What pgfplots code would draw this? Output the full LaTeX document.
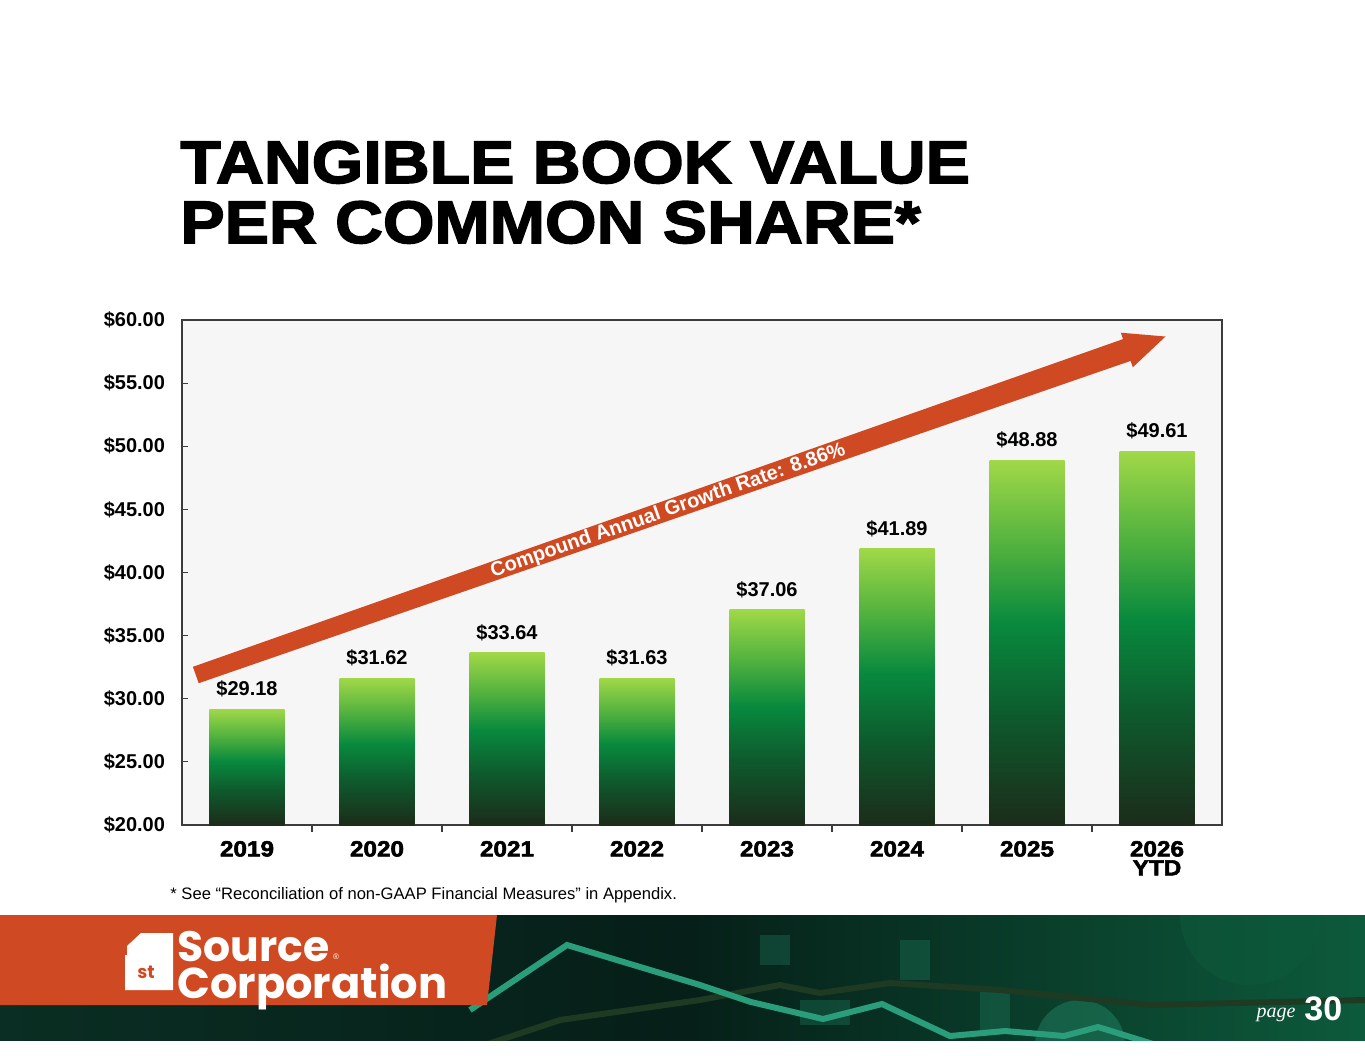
\documentclass[border=0pt]{standalone}
\usepackage{pgfplots}
\pgfplotsset{compat=1.18}
\usepackage{fontspec}
\setmainfont{Liberation Sans}
\newfontfamily\titlefont{Liberation Sans}[UprightFont={* Bold}, FakeStretch=1.105, FakeBold=2.5]
\newfontfamily\serifit{Liberation Serif}
\newfontfamily\logofont{Poppins}
\definecolor{plotbg}{HTML}{F6F6F6}
\definecolor{axisgray}{HTML}{3C3C3C}
\definecolor{arroworange}{HTML}{CF4A22}
\definecolor{bardark}{HTML}{1C2C1A}
\definecolor{barmidb}{HTML}{0E5A2D}
\definecolor{bargreen}{HTML}{08893E}
\definecolor{barlightb}{HTML}{4CAF3E}
\definecolor{barlight}{HTML}{A0D848}
\definecolor{bannerL}{HTML}{0A2E23}
\definecolor{bannerM}{HTML}{061F18}
\definecolor{bannerR}{HTML}{0D5A3C}
\definecolor{tealline}{HTML}{2A9E7A}
\definecolor{darkline}{HTML}{1E3A22}
\pgfdeclareverticalshading{bargrad}{100bp}{color(0bp)=(bardark); color(25bp)=(bardark); color(40bp)=(barmidb); color(52.5bp)=(bargreen); color(62.5bp)=(barlightb); color(75bp)=(barlight); color(100bp)=(barlight)}
\begin{document}
\begin{tikzpicture}[x=0.5pt,y=-0.5pt]
\path[use as bounding box, fill=white] (0,0) rectangle (1365,1055);
% Title
\node[anchor=base west, inner sep=0, font=\titlefont\fontsize{30}{30}\selectfont] at (180,183) {TANGIBLE BOOK VALUE};
\node[anchor=base west, inner sep=0, font=\titlefont\fontsize{30}{30}\selectfont] at (180,243) {PER COMMON SHARE*};
% Chart
\begin{axis}[
  at={(91pt,-412.5pt)}, anchor=south west,
  scale only axis, width=520pt, height=252.5pt,
  xmin=-0.5, xmax=7.5, ymin=20, ymax=60,
  axis background/.style={fill=plotbg},
  axis line style={axisgray, line width=0.8pt},
  /pgf/number format/assume math mode=true,
  xtick={0,...,7},
  xticklabels={2019,2020,2021,2022,2023,2024,2025,{2026\\YTD}},
  minor xtick={0.5,1.5,...,6.5},
  major x tick style={draw=none},
  minor tick length=3.5pt,
  major tick length=3pt,
  tick align=inside,
  xtick pos=bottom, ytick pos=left,
  tick style={axisgray, line width=0.6pt},
  ytick={20,25,...,60},
  yticklabel={\$\pgfmathprintnumber[fixed,fixed zerofill,precision=2]{\tick}},
  yticklabel style={font=\bfseries\fontsize{10}{12}\selectfont, xshift=-5pt},
  xticklabel style={font=\titlefont\fontsize{11}{9.5}\selectfont, align=center, yshift=-1.5pt},
  ybar, bar width=37.5pt, bar shift=0pt,
  nodes near coords={\$\pgfmathprintnumber[fixed,fixed zerofill,precision=2]{\pgfplotspointmeta}},
  every node near coord/.append style={font=\bfseries\fontsize{10}{12}\selectfont, yshift=2.5pt},
  clip=false,
]
\addplot[draw=none, shade, shading=bargrad] coordinates {(0,29.18)};
\addplot[draw=none, shade, shading=bargrad] coordinates {(1,31.62)};
\addplot[draw=none, shade, shading=bargrad] coordinates {(2,33.64)};
\addplot[draw=none, shade, shading=bargrad] coordinates {(3,31.63)};
\addplot[draw=none, shade, shading=bargrad] coordinates {(4,37.06)};
\addplot[draw=none, shade, shading=bargrad] coordinates {(5,41.89)};
\addplot[draw=none, shade, shading=bargrad] coordinates {(6,48.88)};
\addplot[draw=none, shade, shading=bargrad] coordinates {(7,49.61)};
\end{axis}
% CAGR arrow
\fill[arroworange] (192.9,666.8) -- (1123.0,339.1) -- (1120.8,332.7) -- (1165.5,336.5) -- (1132.8,367.3) -- (1130.6,360.9) -- (198.7,683.2) -- cycle;
\node[rotate=19.24, text=white, font=\bfseries\fontsize{10}{12}\selectfont, inner sep=0] at (668,511) {Compound Annual Growth Rate: 8.86\%};
% Footnote
\node[anchor=west, inner sep=0, font=\fontsize{8.3}{10}\selectfont] at (170,895) {* See “Reconciliation of non-GAAP Financial Measures” in Appendix.};
% Banner
\begin{scope}
\clip (0,915) rectangle (1365,1040);
\shade[left color=bannerL, right color=bannerR, middle color=bannerM] (0,915) rectangle (1365,1040);
\fill[bannerR, opacity=0.5] (1250,915) circle[radius=70];
\fill[tealline, opacity=0.35] (1080,1045) circle[radius=45];
\fill[tealline, opacity=0.25] (900,940) rectangle (930,980);
\fill[tealline, opacity=0.25] (800,1000) rectangle (850,1025);
\fill[tealline, opacity=0.25] (980,990) rectangle (1010,1030);
\fill[tealline, opacity=0.25] (760,935) rectangle (790,965);
\draw[darkline, line width=3pt] (440,1060) -- (560,1020) -- (700,1000) -- (780,985) -- (820,993) -- (890,983) -- (1000,990) -- (1150,1005) -- (1365,1000);
\draw[tealline, line width=3pt] (470,1010) -- (567,945) -- (700,985) -- (751,1002) -- (823,1019) -- (882,1004) -- (950,1036) -- (1005,1031) -- (1064,1036) -- (1098,1027) -- (1166,1048);
\fill[arroworange] (0,915) -- (497,915) -- (487,1005) -- (0,1005) -- cycle;
\end{scope}
% Logo
\fill[white] (127,946) -- (141,933) -- (173,933) -- (173,990) -- (125,990) -- (125,955) -- (127,955) -- cycle;
\node[text=arroworange, font=\logofont\bfseries\fontsize{9}{9}\selectfont, inner sep=0] at (146,972) {st};
\node[anchor=south west, inner sep=0, text=white] at (177,962) {\resizebox{76pt}{!}{\logofont\bfseries Source}};
\node[anchor=north west, inner sep=0, text=white] at (177,964) {\resizebox{135pt}{!}{\logofont\bfseries Corporation}};
\node[text=white, font=\fontsize{4}{4}\selectfont, inner sep=0] at (336,957) {®};
% page number
\node[anchor=base east, inner sep=0, text=white, font=\serifit\itshape\fontsize{10}{12}\selectfont] at (1296,1017) {page};
\node[anchor=base west, inner sep=0, text=white, font=\bfseries\fontsize{17}{17}\selectfont] at (1304,1020) {30};
\end{tikzpicture}
\end{document}
